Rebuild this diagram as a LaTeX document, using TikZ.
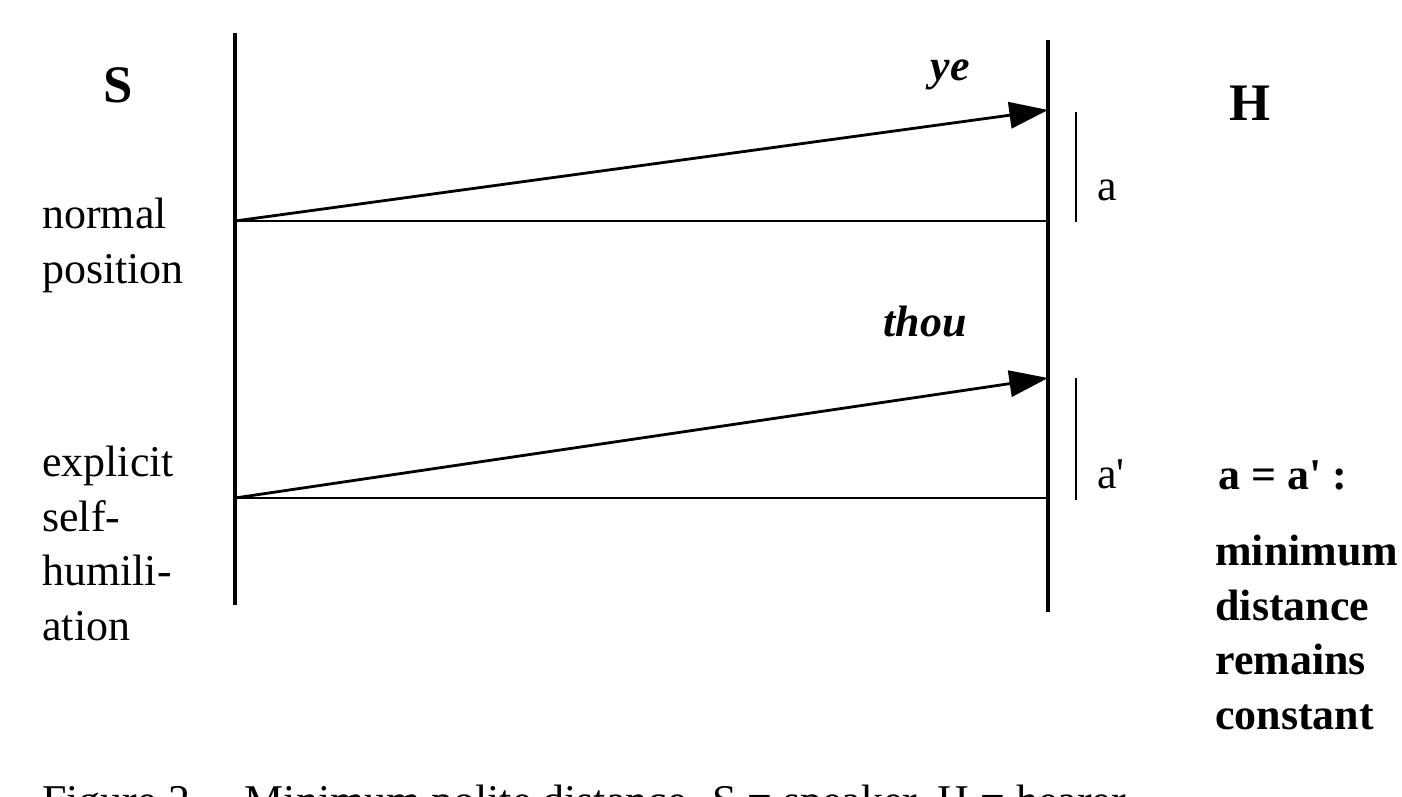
\documentclass[tikz,border=0pt]{standalone}
\usepackage{fontspec}
\setmainfont{Liberation Serif}
\usetikzlibrary{arrows.meta}
\tikzset{
  axis/.style={line width=2.6pt},
  rung/.style={line width=1.2pt},
  msg/.style={line width=1.6pt, -{Triangle[length=22pt,width=15pt]}},
  gap/.style={line width=1.2pt},
  lbl/.style={font=\fontsize{25}{31}\selectfont, inner sep=0pt},
  side/.style={lbl, align=left, anchor=north west},
}
\begin{document}
\begin{tikzpicture}[x=0.02cm,y=-0.02cm]
    \useasboundingbox (0,0) rectangle (1402,797);
    \clip (0,0) rectangle (1402,797);

    \coordinate (sTop) at (235,33);
    \coordinate (sBot) at (235,605);
    \coordinate (hTop) at (1048,40);
    \coordinate (hBot) at (1048,612);
    \draw [axis] (sTop) -- (sBot);
    \draw [axis] (hTop) -- (hBot);

    \coordinate (s1) at (235,221);
    \coordinate (h1) at (1048,221);
    \coordinate (y1) at (1048,110);
    \coordinate (s2) at (235,498);
    \coordinate (h2) at (1048,498);
    \coordinate (y2) at (1048,378);

    \draw [rung] (s1) -- (h1);
    \draw [msg] (s1) -- (y1);
    \draw [rung] (s2) -- (h2);
    \draw [msg] (s2) -- (y2);

    \coordinate (g1t) at (1076,112);
    \coordinate (g1b) at (1076,222);
    \coordinate (g2t) at (1076,378);
    \coordinate (g2b) at (1076,500);
    \draw [gap] (g1t) -- (g1b);
    \draw [gap] (g2t) -- (g2b);

    \node [lbl, anchor=west] (a1) at (1097,190) {a};
    \node [lbl, anchor=west] (a2) at (1097,474) {a\textquotesingle};

    \node [lbl, font=\fontsize{30}{36}\selectfont\bfseries] (spk) at (118,85) {S};
    \node [lbl, font=\fontsize{30}{36}\selectfont\bfseries] (hrr) at (1250,103) {H};

    \node [lbl, font=\fontsize{25}{31}\selectfont\bfseries\itshape] (ye) at (950,75) {ye};
    \node [lbl, font=\fontsize{25}{31}\selectfont\bfseries\itshape] (thou) at (925,322) {thou};

    \node [side] (norm) at (42,198) {normal\\position};
    \node [side] (expl) at (42,446) {explicit\\self-\\humili-\\ation};

    \node [lbl, font=\fontsize{25}{31}\selectfont\bfseries, anchor=west] (eq) at (1218,475) {a = a\textquotesingle\ :};
    \node [side, font=\fontsize{25}{31}\selectfont\bfseries] (rem) at (1215,535) {minimum\\distance\\remains\\constant};

    \node [lbl, anchor=base west] (cap) at (42,815) {Figure 2\quad\ Minimum polite distance. S = speaker, H = hearer};
\end{tikzpicture}
\end{document}
